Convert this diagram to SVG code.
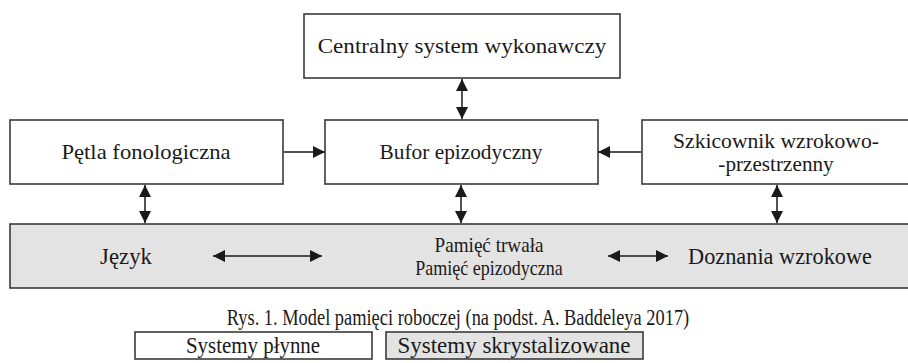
<svg xmlns="http://www.w3.org/2000/svg" width="908" height="363" viewBox="0 0 908 363">
<style>
.box{fill:#fff;stroke:#3a3a3a;stroke-width:1.6}
.gray{fill:#e3e3e3;stroke:#3a3a3a;stroke-width:1.6}
text{font-family:"Liberation Serif","Times New Roman",serif;fill:#1a1a1a;text-anchor:middle}
.t{font-size:22px}
.t2{font-size:21px}
.c{font-size:23px}
.c2{font-size:22px}
.ln{stroke:#1a1a1a;stroke-width:1.5;fill:none}
</style>
<defs>
<marker id="ah" viewBox="0 0 12 12" refX="12" refY="6" markerWidth="12" markerHeight="12" markerUnits="userSpaceOnUse" orient="auto-start-reverse">
<path d="M0,0 L12,6 L0,12 z" fill="#1a1a1a"/>
</marker>
</defs>
<rect width="908" height="363" fill="#fff"/>
<g id="centralny">
<rect class="box" x="304" y="14" width="316" height="64"/>
<text class="t" transform="translate(462,53) scale(1.05,1)">Centralny system wykonawczy</text>
</g>
<g id="petla">
<rect class="box" x="10" y="120" width="273" height="64"/>
<text class="t" transform="translate(146,159) scale(1.03,1)">Pętla fonologiczna</text>
</g>
<g id="bufor">
<rect class="box" x="325" y="120" width="273" height="64"/>
<text class="t" transform="translate(461,159) scale(0.97,1)">Bufor epizodyczny</text>
</g>
<g id="szkicownik">
<rect class="box" x="642" y="120" width="270" height="64"/>
<text class="t2" transform="translate(776,148) scale(1.03,1)">Szkicownik wzrokowo-</text>
<text class="t2" transform="translate(776,171) scale(1.01,1)">-przestrzenny</text>
</g>
<g id="pamiec">
<rect class="gray" x="10" y="224" width="902" height="64"/>
<text class="c" transform="translate(126,264) scale(0.99,1)">Język</text>
<text class="c2" transform="translate(489,252) scale(0.87,1)">Pamięć trwała</text>
<text class="c2" transform="translate(489,275) scale(0.82,1)">Pamięć epizodyczna</text>
<text class="c" transform="translate(780,264) scale(0.97,1)">Doznania wzrokowe</text>
</g>
<g id="connectors">
<line class="ln" x1="462" y1="79" x2="462" y2="119" marker-start="url(#ah)" marker-end="url(#ah)"/>
<line class="ln" x1="284" y1="152" x2="325" y2="152" marker-end="url(#ah)"/>
<line class="ln" x1="641" y1="152" x2="598" y2="152" marker-end="url(#ah)"/>
<line class="ln" x1="145" y1="185" x2="145" y2="223" marker-start="url(#ah)" marker-end="url(#ah)"/>
<line class="ln" x1="461" y1="185" x2="461" y2="223" marker-start="url(#ah)" marker-end="url(#ah)"/>
<line class="ln" x1="777" y1="185" x2="777" y2="223" marker-start="url(#ah)" marker-end="url(#ah)"/>
<line class="ln" x1="213" y1="256" x2="322" y2="256" marker-start="url(#ah)" marker-end="url(#ah)"/>
<line class="ln" x1="608" y1="256" x2="668" y2="256" marker-start="url(#ah)" marker-end="url(#ah)"/>
</g>
<text class="c" transform="translate(458,325) scale(0.8,1)">Rys. 1. Model pamięci roboczej (na podst. A. Baddeleya 2017)</text>
<g id="legend-plynne">
<rect class="box" x="135" y="332" width="237" height="27"/>
<text class="c" transform="translate(253,353) scale(0.91,1)">Systemy płynne</text>
</g>
<g id="legend-skrystalizowane">
<rect class="gray" x="386" y="332" width="257" height="27"/>
<text class="c" transform="translate(514,353) scale(1.0,1)">Systemy skrystalizowane</text>
</g>
</svg>
